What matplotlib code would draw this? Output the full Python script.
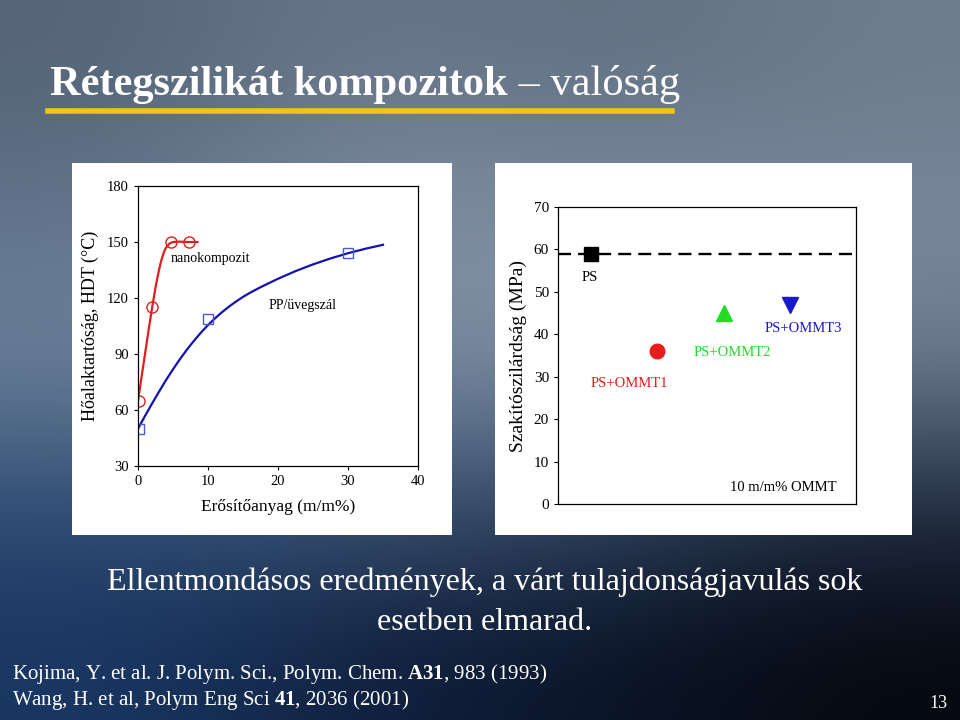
import numpy as np
import matplotlib
matplotlib.use("Agg")
import matplotlib.pyplot as plt
from matplotlib.patches import Rectangle
from matplotlib.lines import Line2D

# ================= CONFIG =================
FIG_W, FIG_H, DPI = 9.6, 7.2, 100
SERIF = "Liberation Serif"
plt.rcParams["font.family"] = [SERIF, "DejaVu Serif"]
plt.rcParams["mathtext.fontset"] = "custom"
plt.rcParams["mathtext.bf"] = "Liberation Serif:bold"
plt.rcParams["mathtext.rm"] = "Liberation Serif"

# ---- left chart data (HDT vs reinforcement) ----
nano_x = [0.1, 2.0, 4.7, 7.3]
nano_y = [65, 115, 150, 150]
nano_curve_x = [0, 0.5, 1, 1.5, 2, 2.25, 2.5, 2.75, 3, 3.25, 3.5, 3.75, 4, 4.5, 5, 6, 7, 8.5]
nano_curve_y = [65, 77.5, 90, 102.5, 114.5, 120, 125.5, 130.5, 135, 139, 142.3, 145,
                147, 149.2, 150, 150.2, 150, 150]

glass_x = [0.1, 10, 30]
glass_y = [50, 109, 144]
glass_curve_x = [0, 1, 2, 3, 4, 5, 6, 7, 8, 9, 10, 11, 12, 13, 14, 15, 16, 17, 18,
                 20, 22.5, 25, 27.5, 30, 32.5, 35]
glass_curve_y = [50, 56.8, 63.4, 69.8, 76, 81.8, 87.3, 92.4, 97.1, 101.5, 105.5,
                 109.1, 112.4, 115.4, 118.1, 120.6, 122.8, 124.8, 126.7,
                 130.3, 134.4, 138.0, 141.2, 144.0, 146.4, 148.5]

hdt_yticks = [30, 60, 90, 120, 150, 180]
hdt_xticks = [0, 10, 20, 30, 40]

# ---- right chart data (tensile strength) ----
samples = ["PS", "PS+OMMT1", "PS+OMMT2", "PS+OMMT3"]
sample_pos = [1, 3, 5, 7]
strength = [59, 36, 45, 47]
ps_ref = 59
strength_yticks = [0, 10, 20, 30, 40, 50, 60, 70]

# ---- background colour grid (rows top->bottom, cols left->right) ----
BG_GRID = np.array([
    [[85, 100, 118], [105, 120, 138], [95, 110, 128], [110, 125, 140]],
    [[95, 115, 140], [130, 145, 165], [125, 140, 160], [120, 135, 155]],
    [[110, 130, 155], [120, 140, 160], [130, 145, 165], [110, 125, 145]],
    [[45, 75, 115], [60, 85, 120], [45, 65, 95], [30, 42, 65]],
    [[25, 55, 100], [15, 30, 60], [10, 20, 40], [5, 8, 15]],
]) / 255.0


def px(x, y):
    """pixel (top-left origin) -> figure fraction"""
    return x / (FIG_W * DPI), 1 - y / (FIG_H * DPI)


def box(x0, y0, x1, y1):
    return [x0 / (FIG_W * DPI), 1 - y1 / (FIG_H * DPI),
            (x1 - x0) / (FIG_W * DPI), (y1 - y0) / (FIG_H * DPI)]


def main():
    fig = plt.figure(figsize=(FIG_W, FIG_H), dpi=DPI)

    # background
    bg = fig.add_axes([0, 0, 1, 1], zorder=-5)
    bg.imshow(BG_GRID, aspect="auto", interpolation="bicubic", extent=[0, 1, 0, 1])
    bg.set_axis_off()

    # title
    tx, ty = px(50, 95)
    t1 = fig.text(tx, ty, "Rétegszilikát kompozitok", color="white", fontsize=30.5,
                  fontweight="bold", va="baseline", ha="left")
    fig.canvas.draw()
    bb = t1.get_window_extent()
    fig.text(bb.x1 / (FIG_W * DPI), ty, " – valóság", color="white", fontsize=30.5,
             va="baseline", ha="left")
    (lx0, ly), (lx1, _) = px(48, 111), px(672, 111)
    fig.add_artist(Line2D([lx0, lx1], [ly, ly], color="#f0c419", lw=4))

    # white panels
    for x0, x1 in [(72, 452), (495, 912)]:
        r = box(x0, 163, x1, 535)
        fig.add_artist(Rectangle((r[0], r[1]), r[2], r[3], transform=fig.transFigure,
                                 facecolor="white", edgecolor="none", zorder=-1))

    # ---------------- left chart ----------------
    ax1 = fig.add_axes(box(138, 186, 418, 466), zorder=3)
    ax1.plot(nano_curve_x, nano_curve_y, color="#e01e1e", lw=1.6)
    ax1.plot(nano_x, nano_y, "o", ms=8, mfc="none", mec="#e01e1e", mew=1.0)
    ax1.plot(glass_curve_x, glass_curve_y, color="#1212b4", lw=1.6)
    ax1.plot(glass_x, glass_y, "s", ms=7, mfc="none", mec="#4a5ad0", mew=1.0)
    ax1.set_xlim(0, 40)
    ax1.set_ylim(30, 180)
    ax1.set_xticks(hdt_xticks)
    ax1.set_yticks(hdt_yticks)
    ax1.tick_params(labelsize=10.5, direction="out", length=3, width=0.8)
    ax1.set_xlabel("Erősítőanyag (m/m%)", fontsize=12.5, labelpad=8)
    ax1.set_ylabel("Hőalaktartóság, HDT (°C)", fontsize=13, labelpad=6)
    ax1.text(4.6, 141, "nanokompozit", fontsize=10, ha="left", va="center")
    ax1.text(23.5, 116, "PP/üvegszál", fontsize=10, ha="center", va="center")
    for s in ax1.spines.values():
        s.set_linewidth(0.9)

    # ---------------- right chart ----------------
    ax2 = fig.add_axes(box(558, 207, 856, 504), zorder=3)
    ax2.axhline(ps_ref, color="black", lw=1.7, dashes=(5.5, 3))
    colors = ["black", "#e81c1c", "#22dd22", "#1a1acc"]
    markers = ["s", "o", "^", "v"]
    sizes = [9.5, 10.5, 12, 12]
    for xp, yv, c, m, s in zip(sample_pos, strength, colors, markers, sizes):
        ax2.plot(xp, yv, m, color=c, ms=s, zorder=3)
    lbl_xy = [(0.95, 53.5), (2.17, 28.5), (5.26, 35.8), (7.4, 41.3)]
    for name, (lxp, lyp), c in zip(samples, lbl_xy, colors):
        ax2.text(lxp, lyp, name, color=c, fontsize=10.5, ha="center", va="center")
    ax2.text(8.42, 4.0, "10 m/m% OMMT", fontsize=10.5, ha="right", va="center")
    ax2.set_xlim(0, 9)
    ax2.set_ylim(0, 70)
    ax2.set_xticks([])
    ax2.set_yticks(strength_yticks)
    ax2.tick_params(labelsize=11, direction="out", length=3, width=0.8)
    ax2.set_ylabel("Szakítószilárdság (MPa)", fontsize=14, labelpad=5)
    for s in ax2.spines.values():
        s.set_linewidth(0.9)

    # ---------------- bottom texts ----------------
    fig.text(*px(485, 582), "Ellentmondásos eredmények, a várt tulajdonságjavulás sok",
             color="white", fontsize=23, ha="center", va="center")
    fig.text(*px(485, 622), "esetben elmarad.", color="white", fontsize=23,
             ha="center", va="center")
    fig.text(*px(12, 674), r"Kojima, Y. et al. J. Polym. Sci., Polym. Chem. $\mathbf{A31}$, 983 (1993)",
             color="white", fontsize=15, ha="left", va="center")
    fig.text(*px(12, 700), r"Wang, H. et al, Polym Eng Sci $\mathbf{41}$, 2036 (2001)",
             color="white", fontsize=15, ha="left", va="center")
    fig.text(*px(938, 704), "13", color="white", fontsize=13, ha="center", va="center")

    fig.savefig("out.png", dpi=DPI)
    plt.close(fig)


if __name__ == "__main__":
    main()
